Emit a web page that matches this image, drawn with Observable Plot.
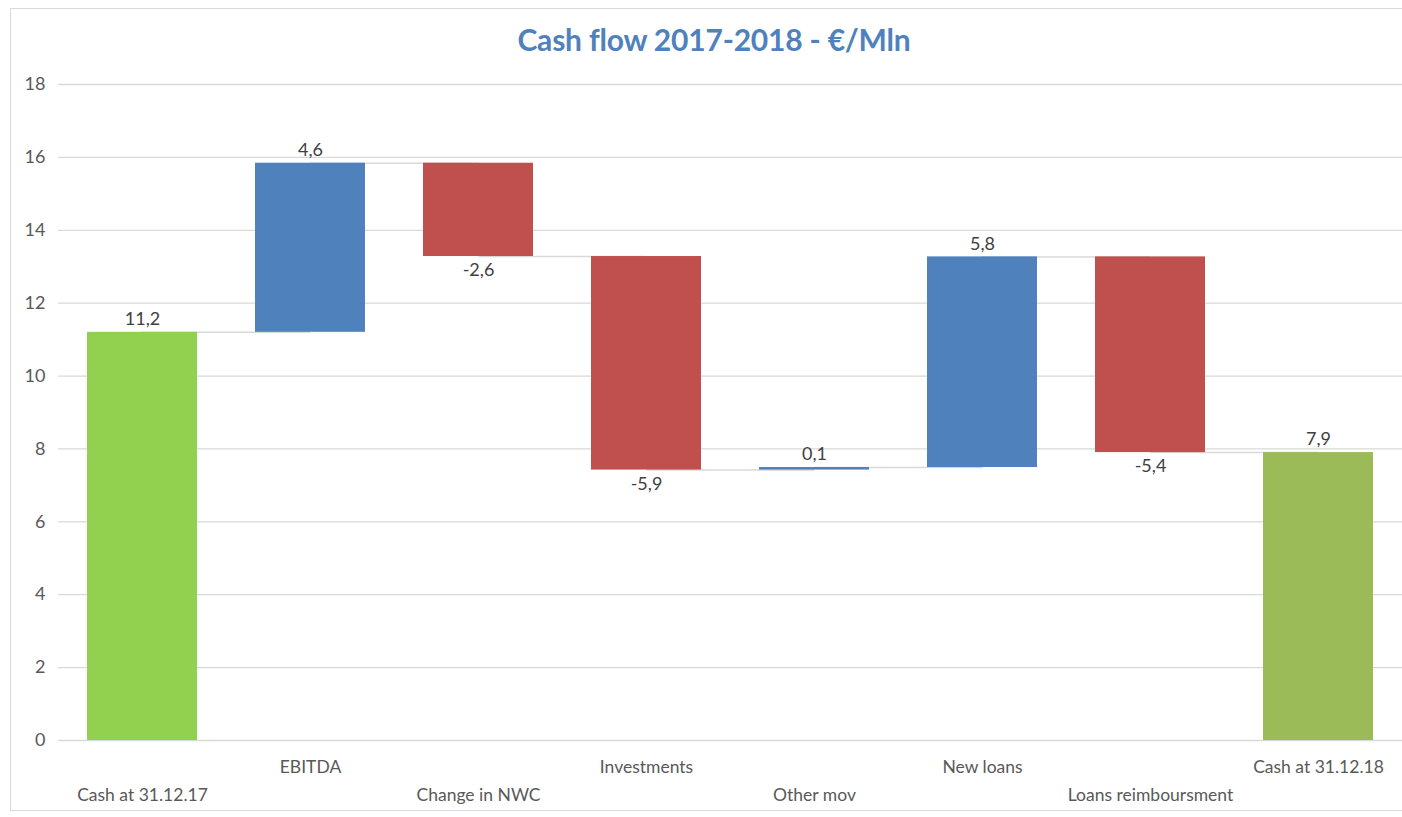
<!DOCTYPE html>
<html>
<head>
<meta charset="utf-8">
<script src="https://cdn.jsdelivr.net/npm/d3@7"></script>
<script src="https://cdn.jsdelivr.net/npm/@observablehq/plot@0.6"></script>
<style>
  html, body { margin: 0; padding: 0; background: #fff; }
  body { width: 1402px; height: 817px; position: relative; overflow: hidden; font-family: Lato, "Open Sans", sans-serif; }
  #frame { position: absolute; left: 10px; top: 8px; width: 1400px; height: 803px; border: 1px solid #d9d9d9; box-sizing: border-box; }
  #title { position: absolute; left: 0; top: 21px; width: 1428px; text-align: center; font-size: 30px; font-weight: bold; color: #4f81bd; letter-spacing: -0.2px; }
  #chart { position: absolute; left: 0; top: 70px; }
</style>
</head>
<body>
<div id="frame"></div>
<div id="title">Cash flow 2017-2018 - €/Mln</div>
<div id="chart"></div>
<script>
const categories = ["Cash at 31.12.17", "EBITDA", "Change in NWC", "Investments", "Other mov", "New loans", "Loans reimboursment", "Cash at 31.12.18"];
const startCash = 11.2;
const movements = [4.64, -2.56, -5.86, 0.07, 5.78, -5.37];
const endCash = 7.9;
const yTicks = [0, 2, 4, 6, 8, 10, 12, 14, 16, 18];

const fmt = v => v.toFixed(1).replace(".", ",");
const rows = [];
rows.push({cat: categories[0], y1: 0, y2: startCash, value: startCash, color: "#92d050"});
let level = startCash;
movements.forEach((m, i) => {
  rows.push({cat: categories[i + 1], y1: level, y2: level + m, value: m, color: m >= 0 ? "#4f81bd" : "#c0504d"});
  level += m;
});
rows.push({cat: categories[7], y1: 0, y2: endCash, value: endCash, color: "#9bbb59"});
const links = rows.slice(0, -1).map((r, i) => ({a: r.cat, b: rows[i + 1].cat, y: r.y2}));

const chart = Plot.plot({
  width: 1402,
  height: 747,
  marginLeft: 58,
  marginRight: 0,
  marginTop: 14,
  marginBottom: 77,
  style: {fontFamily: "Lato, 'Open Sans', sans-serif", fontSize: "17px", color: "#595959", background: "transparent"},
  x: {domain: categories, paddingInner: 0.345, paddingOuter: 0.16, label: null},
  y: {domain: [0, 18], ticks: yTicks, label: null},
  marks: [
    Plot.gridY(yTicks, {stroke: "#d9d9d9", strokeOpacity: 1, strokeWidth: 1.3}),
    Plot.axisY({ticks: yTicks, tickSize: 0, tickPadding: 13, fontSize: 18, fill: "#595959"}),
    Plot.link(links, {x1: "a", x2: "b", y1: "y", y2: "y", stroke: "#d9d9d9", strokeWidth: 1.5}),
    Plot.barY(rows, {x: "cat", y1: "y1", y2: "y2", fill: "color", insetTop: 0, insetBottom: 0}),
    Plot.ruleY(rows.filter(r => Math.abs(r.value) < 0.2), {x: "cat", y: "y2", stroke: "#4f81bd", strokeWidth: 2}),
    Plot.text(rows, {x: "cat", y: r => Math.max(r.y1, r.y2), text: r => fmt(r.value), filter: r => r.value >= 0, dy: -13, fill: "#404040", fontSize: 18}),
    Plot.text(rows, {x: "cat", y: r => Math.min(r.y1, r.y2), text: r => fmt(r.value), filter: r => r.value < 0, dy: 14, fill: "#404040", fontSize: 18}),
    Plot.axisX({tickSize: 0, tickPadding: 20, tickFormat: (d) => categories.indexOf(d) % 2 === 1 ? d : "", fontSize: 17.5, fill: "#595959"}),
    Plot.axisX({tickSize: 0, tickPadding: 48, tickFormat: (d) => categories.indexOf(d) % 2 === 0 ? d : "", fontSize: 17.5, fill: "#595959"})
  ]
});
document.getElementById("chart").appendChild(chart);
</script>
</body>
</html>
